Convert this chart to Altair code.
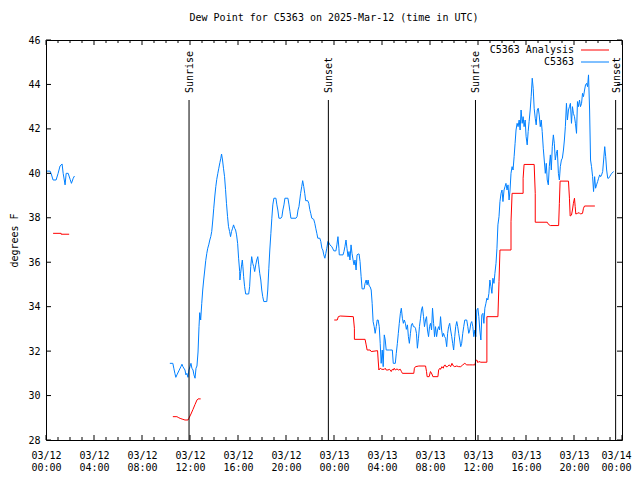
import altair as alt
import pandas as pd

TITLE = "Dew Point for C5363 on 2025-Mar-12 (time in UTC)"
Y_TITLE = "degrees F"
FONT = "DejaVu Sans Mono"
RED = "#ff0000"
BLUE = "#0080ff"

# ---- axis ticks / labels ----
x_tick_hours = [0, 4, 8, 12, 16, 20, 24, 28, 32, 36, 40, 44, 48]
x_tick_dates = ["03/12", "03/12", "03/12", "03/12", "03/12", "03/12",
                "03/13", "03/13", "03/13", "03/13", "03/13", "03/13", "03/14"]
x_tick_times = ["00:00", "04:00", "08:00", "12:00", "16:00", "20:00",
                "00:00", "04:00", "08:00", "12:00", "16:00", "20:00", "00:00"]
x_minor_hours = [h for h in range(0, 49) if h % 4 != 0]
y_ticks = [28, 30, 32, 34, 36, 38, 40, 42, 44, 46]

# ---- sun events (hours since 03/12 00:00 UTC) ----
sun_hours = [11.92, 23.53, 35.79, 47.47]
sun_labels = ["Sunrise", "Sunset", "Sunrise", "Sunset"]

# ---- legend ----
legend_labels = ["C5363 Analysis", "C5363"]
legend_colors = [RED, BLUE]

# ---- observations (C5363), hours since 03/12 00:00 UTC ----
obs1_hours = [0.08, 0.34, 0.42, 0.59, 0.84, 1.01, 1.17, 1.34, 1.43, 1.59, 1.68, 1.85, 2.01, 2.12, 2.27, 2.37]
obs1_values = [40.1, 40.1, 40.0, 39.7, 39.7, 40.0, 40.33, 40.42, 40.0, 39.48, 40.0, 40.0, 39.73, 39.55, 39.78, 39.88]

obs2_hours = [
    10.32, 10.57, 10.65, 10.74, 10.82, 10.91, 11.07, 11.24, 11.33, 11.41, 11.58, 11.66, 11.74, 11.83, 11.91,
    12.00, 12.08, 12.16, 12.25, 12.33, 12.42, 12.50, 12.58, 12.67, 12.75, 12.81, 12.89, 12.98, 13.06, 13.14,
    13.23, 13.31, 13.40, 13.48, 13.56, 13.65, 13.73, 13.81, 13.90, 13.98, 14.07, 14.15, 14.23, 14.32, 14.40,
    14.49, 14.57, 14.63, 14.71, 14.79, 14.88, 14.96, 15.04, 15.13, 15.21, 15.30, 15.38, 15.46, 15.55, 15.63,
    15.72, 15.80, 15.88, 15.97, 16.05, 16.14, 16.16, 16.22, 16.30, 16.36, 16.41, 16.47, 16.55, 16.64, 16.89,
    16.97, 17.06, 17.14, 17.23, 17.31, 17.39, 17.48, 17.56, 17.65, 17.73, 17.81, 17.90, 17.98, 18.06, 18.15,
    18.40, 18.48, 18.57, 18.65, 18.74, 18.82, 18.90, 18.99, 19.16, 19.24, 19.32, 19.41, 19.58, 19.66, 19.74,
    19.83, 19.91, 20.16, 20.25, 20.33, 20.41, 20.83, 20.92, 21.00, 21.08,
    21.22, 21.31, 21.39, 21.48, 21.56, 21.64, 21.81, 21.90, 21.98, 22.06, 22.15, 22.31, 22.40, 22.48, 22.57,
    22.65, 22.82, 22.90, 22.99, 23.07, 23.15, 23.24, 23.32, 23.40, 23.49, 23.57, 23.66, 23.82, 23.91, 23.99,
    24.16, 24.24, 24.33, 24.41, 24.44, 24.75, 24.83, 24.91, 25.00, 25.08, 25.17, 25.25, 25.33, 25.42, 25.50,
    25.59, 25.67, 25.75, 25.84, 25.92, 26.01, 26.09, 26.17, 26.26, 26.34, 26.51, 26.59, 26.68, 26.76, 26.84,
    26.93, 27.01, 27.10, 27.18, 27.26, 27.35, 27.43, 27.52, 27.60, 27.68, 27.77, 27.85, 27.93, 28.02, 28.10,
    28.19, 28.27, 28.35, 28.61, 28.86, 28.94, 29.11, 29.19, 29.28, 29.36, 29.44, 29.53, 29.61, 29.70, 29.78,
    29.86, 29.95, 30.03, 30.12, 30.20, 30.28, 30.37, 30.45, 30.53, 30.62, 30.70, 30.79, 30.87, 30.95, 31.04,
    31.12, 31.21, 31.29, 31.37, 31.46, 31.54, 31.63, 31.71, 31.79, 31.88, 31.96, 32.04, 32.13, 32.21, 32.30,
    32.38, 32.46, 32.55, 32.63, 32.72, 32.80, 32.88, 32.97, 33.05, 33.13, 33.22, 33.30, 33.39, 33.47, 33.55,
    33.64, 33.72, 33.81, 33.89, 33.97, 34.06, 34.14, 34.23, 34.31, 34.39, 34.48, 34.56, 34.64, 34.73, 34.81,
    34.90, 35.06, 35.15, 35.23, 35.32, 35.40, 35.48, 35.57, 35.65, 35.74, 35.82, 35.90, 35.99, 36.07, 36.15,
    36.24,
    36.32, 36.41, 36.49, 36.57, 36.66, 36.74, 36.82, 36.91, 36.99, 37.08, 37.16, 37.24, 37.33, 37.41, 37.50,
    37.58, 37.66, 37.75, 37.83, 37.92, 38.00, 38.08, 38.17, 38.25, 38.33, 38.42, 38.50, 38.59, 38.67, 38.75,
    38.84, 38.92, 39.01, 39.09, 39.17, 39.26, 39.34, 39.43, 39.51, 39.59, 39.68, 39.76, 39.84, 39.93, 40.01,
    40.10, 40.18, 40.26, 40.35, 40.43, 40.52, 40.60, 40.68, 40.77, 40.85, 40.94, 41.02, 41.10, 41.19, 41.27,
    41.35, 41.44, 41.52, 41.61, 41.69, 41.77, 41.86, 41.94, 42.03, 42.11, 42.19, 42.28, 42.36, 42.44, 42.53,
    42.61, 42.70, 42.78, 42.86, 42.95, 43.03, 43.12, 43.20, 43.28, 43.37, 43.45, 43.54, 43.62, 43.70, 43.79,
    43.87, 43.95, 44.04, 44.12, 44.21, 44.29, 44.37, 44.46, 44.54, 44.63, 44.71, 44.79, 44.88, 44.96, 45.05,
    45.13, 45.21, 45.30, 45.38, 45.46, 45.55, 45.63, 45.72, 45.80, 45.88, 45.97, 46.05, 46.14, 46.22, 46.30,
    46.39, 46.47, 46.56, 46.64, 46.72, 46.81, 46.89, 46.97, 47.06, 47.14, 47.31,
]
obs2_values = [
    31.45, 31.45, 31.23, 31.00, 30.82, 30.93, 31.11, 31.30, 31.41, 31.30, 31.15, 30.93, 31.00, 30.82, 31.15,
    31.30, 31.45, 31.23, 31.15, 30.93, 30.78, 31.23, 31.33, 31.96, 33.10, 33.73, 33.40, 34.15, 34.75, 35.20,
    35.65, 36.07, 36.40, 36.63, 36.78, 37.00, 37.15, 37.38, 37.90, 38.43, 38.98, 39.40, 39.73, 40.00, 40.23,
    40.48, 40.68, 40.87, 40.60, 40.23, 39.85, 39.28, 38.65, 38.05, 37.60, 37.38, 37.15, 37.38, 37.53, 37.68,
    37.53, 37.45, 37.23, 36.85, 36.18, 35.58, 35.20, 35.50, 35.88, 36.10, 35.80, 35.35, 34.90, 34.57, 34.57,
    34.90, 35.80, 36.25, 35.95, 35.80, 35.58, 35.88, 36.10, 36.25, 35.88, 35.50, 35.20, 34.75, 34.45, 34.23,
    34.23, 34.75, 35.73, 36.55, 37.30, 37.98, 38.58, 38.88, 38.88, 38.58, 38.35, 37.98, 37.98, 38.05, 38.35,
    38.58, 38.88, 38.88, 38.58, 38.28, 37.98, 37.98, 38.05, 38.35, 38.50,
    39.10, 39.40, 39.67, 39.40, 39.10, 38.77, 38.77, 38.65, 38.38, 38.20, 37.98, 37.93, 37.75, 37.53, 37.30,
    37.08, 37.08, 36.93, 36.63, 36.55, 36.33, 36.18, 36.40, 36.63, 36.93, 36.88, 36.78, 36.70, 36.60, 36.51,
    36.51, 36.78, 37.15, 36.63, 36.33, 36.33, 36.48, 36.70, 37.00, 36.63, 36.25, 36.48, 36.10, 36.78, 36.40,
    36.10, 35.88, 36.10, 35.65, 36.33, 36.37, 36.37, 36.03, 35.35, 34.80, 34.80, 35.05, 35.20, 34.98, 35.20,
    34.93, 34.90, 34.75, 34.15, 33.33, 33.10, 32.80, 33.10, 33.40, 33.40, 33.10, 32.35, 31.45, 32.05, 31.30,
    32.73, 32.50, 32.05, 32.05, 32.05, 31.45, 31.45, 31.90, 32.35, 32.80, 33.25, 33.70, 33.93, 33.48, 33.25,
    33.40, 33.25, 32.98, 33.18, 32.65, 32.35, 32.80, 33.18, 33.25, 33.10, 33.10, 33.03, 32.80, 32.13, 32.58,
    33.10, 33.48, 33.85, 34.00, 33.55, 33.10, 33.40, 33.55, 32.95, 32.65, 33.10, 33.25, 32.95, 33.93, 33.25,
    32.65, 33.10, 32.65, 32.95, 33.10, 32.95, 33.55, 32.95, 32.65, 32.80, 32.65, 32.58, 32.20, 32.80, 33.10,
    33.25, 32.95, 32.65, 32.35, 32.05, 32.65, 33.10, 33.33, 33.10, 32.80, 32.50, 32.20, 32.35, 32.80, 33.10,
    33.40, 33.40, 33.10, 32.80, 32.95, 33.25, 33.33, 33.10, 32.65, 32.95, 32.65, 33.85, 33.93, 33.55, 32.95,
    32.50,
    33.63, 33.70, 33.25, 33.93, 34.15, 34.38, 34.30, 34.60, 35.20, 34.90, 34.60, 35.28, 35.05, 35.50, 35.95,
    36.63, 37.68, 38.05, 38.73, 39.10, 39.25, 38.73, 39.25, 39.40, 39.55, 39.25, 39.48, 38.80, 39.25, 40.00,
    40.30, 40.15, 40.75, 41.35, 41.95, 42.25, 42.10, 42.40, 41.95, 42.85, 42.25, 42.55, 42.10, 42.40, 41.65,
    41.28, 41.88, 42.33, 42.85, 43.45, 44.28, 43.83, 42.93, 42.48, 42.18, 42.85, 42.93, 42.63, 42.10, 42.40,
    41.88, 41.13, 40.60, 40.00, 40.45, 39.70, 39.48, 40.30, 40.83, 40.15, 41.20, 41.73, 41.35, 40.60, 40.90,
    41.05, 40.00, 39.70, 40.30, 40.60, 40.68, 41.05, 41.50, 42.10, 43.15, 42.40, 42.85, 43.00, 43.15, 42.25,
    43.00, 42.70, 42.55, 42.25, 41.80, 43.23, 43.00, 43.30, 43.00, 43.15, 43.60, 43.45, 43.75, 43.98, 44.05,
    43.90, 44.43, 42.85, 40.60, 40.30, 39.85, 39.18, 39.85, 39.33, 39.48, 39.63, 39.78, 39.93, 39.85, 39.93,
    40.08, 40.60, 41.20, 40.75, 40.15, 39.78, 39.78, 39.85, 39.93, 40.00, 40.08,
]

# ---- analysis (C5363 Analysis) ----
ana1_hours = [0.59, 1.26, 1.26, 1.93]
ana1_values = [37.30, 37.30, 37.26, 37.26]

ana2_hours = [10.57, 10.91, 11.07, 11.24, 11.41, 11.58, 11.83, 11.91, 12.08, 12.25, 12.42, 12.58, 12.67, 12.89]
ana2_values = [29.05, 29.05, 29.00, 28.96, 28.93, 28.90, 28.90, 28.98, 29.17, 29.38, 29.60, 29.80, 29.85, 29.85]

ana3_hours = [
    24.02, 24.27, 24.36, 24.52, 25.61, 25.70, 25.70, 26.59, 26.68, 26.76, 27.01, 27.10, 27.63, 27.68, 27.74,
    27.85, 27.99, 28.19, 28.27, 28.35, 28.49, 28.63, 28.77, 28.86, 28.94, 29.02, 29.11, 29.25, 29.36, 29.53,
    29.61, 29.70, 30.65, 30.70, 30.79, 31.07, 31.63, 31.71, 31.76, 31.93, 32.04, 32.16, 32.24, 32.66, 32.72,
    32.83, 32.88, 32.99, 33.11, 33.16, 33.25, 33.33, 33.44, 33.61, 33.72, 33.83, 33.95, 34.06, 34.23, 34.39,
    34.56, 34.73, 34.90, 35.06, 35.26, 35.54, 35.74, 35.82, 35.90, 35.99, 36.07, 36.24, 36.74, 36.74, 37.66,
    37.75, 37.83, 38.75, 38.75, 38.84, 39.76, 39.76, 39.84, 40.68, 40.77, 40.77, 41.77, 41.88, 42.03, 42.72,
    42.78, 42.84, 43.54, 43.62, 43.68, 43.79, 43.87, 43.95, 44.04, 44.10, 44.15, 44.29, 44.43, 44.54, 44.71,
    44.79, 44.88, 45.74,
]
ana3_values = [
    33.40, 33.40, 33.55, 33.58, 33.55, 33.03, 32.53, 32.53, 32.28, 32.05, 32.05, 31.98, 32.02, 31.60, 31.15,
    31.23, 31.18, 31.18, 31.23, 31.15, 31.15, 31.18, 31.08, 31.18, 31.15, 31.23, 31.15, 31.20, 31.15, 31.18,
    31.09, 31.00, 31.00, 31.23, 31.30, 31.33, 31.33, 31.08, 30.85, 30.85, 31.08, 30.97, 30.85, 30.85, 31.15,
    31.23, 31.18, 31.30, 31.23, 31.33, 31.38, 31.30, 31.30, 31.38, 31.30, 31.45, 31.33, 31.30, 31.33, 31.30,
    31.30, 31.38, 31.45, 31.38, 31.38, 31.38, 31.38, 31.57, 31.60, 31.48, 31.53, 31.50, 31.50, 33.55, 33.55,
    35.13, 36.55, 36.55, 37.82, 39.10, 39.10, 39.78, 40.40, 40.40, 39.10, 37.80, 37.80, 37.70, 37.65, 37.65,
    38.65, 39.65, 39.65, 38.88, 38.08, 38.12, 38.35, 38.65, 38.88, 38.50, 38.17, 38.20, 38.23, 38.17, 38.20,
    38.43, 38.53, 38.53,
]


def segments_df(segs):
    rows = []
    for sid, (hs, vs) in enumerate(segs):
        for i, (h, v) in enumerate(zip(hs, vs)):
            rows.append({"hour": h, "value": v, "seg": sid, "idx": i})
    return pd.DataFrame(rows)


obs_df = segments_df([(obs1_hours, obs1_values), (obs2_hours, obs2_values)])
ana_df = segments_df([(ana1_hours, ana1_values), (ana2_hours, ana2_values), (ana3_hours, ana3_values)])

W, H = 576, 400
x_scale = alt.Scale(domain=[0, 48], nice=False, zero=False)
y_scale = alt.Scale(domain=[28, 46], nice=False, zero=False)

label_array = "[" + ",".join(f"['{d}','{t}']" for d, t in zip(x_tick_dates, x_tick_times)) + "]"
last_tick = x_tick_hours[-1]
x_axis = alt.Axis(values=x_tick_hours, labelExpr=label_array + "[round(datum.value/4)]",
                  ticks=False, domain=False, grid=False, title=None,
                  labelFont=FONT, labelFontSize=10, labelColor="black", labelPadding=10,
                  labelLineHeight=12, labelAngle=0, labelBaseline="top",
                  labelOffset={"condition": {"test": f"datum.value == {last_tick}", "value": -6},
                               "value": 0},
                  labelOverlap=False, labelFlush=False)
y_axis = alt.Axis(values=y_ticks, ticks=False, domain=False, grid=False,
                  title=Y_TITLE, titleFont=FONT, titleFontSize=10, titleFontWeight="normal",
                  titleColor="black", titlePadding=8,
                  labelFont=FONT, labelFontSize=10, labelColor="black", labelPadding=6)

X = alt.X("hour:Q", scale=x_scale, axis=x_axis)
Y = alt.Y("value:Q", scale=y_scale, axis=y_axis)

ana_line = alt.Chart(ana_df).mark_line(color=RED, strokeWidth=1, clip=True).encode(
    x=X, y=Y, detail="seg:N", order="idx:Q")
obs_line = alt.Chart(obs_df).mark_line(color=BLUE, strokeWidth=1, clip=True).encode(
    x=X, y=Y, detail="seg:N", order="idx:Q")

# inward ticks (gnuplot style) on all four sides
xmaj_df = pd.DataFrame({"hour": x_tick_hours})
xmin_df = pd.DataFrame({"hour": x_minor_hours})
ymaj_df = pd.DataFrame({"value": y_ticks})


def xticks(df, length):
    bot = alt.Chart(df).mark_rule(color="black", strokeWidth=1).encode(
        x=X, y=alt.value(H), y2=alt.value(H - length))
    top = alt.Chart(df).mark_rule(color="black", strokeWidth=1).encode(
        x=X, y=alt.value(0), y2=alt.value(length))
    return [bot, top]


def yticks(df, length):
    left = alt.Chart(df).mark_rule(color="black", strokeWidth=1).encode(
        y=Y, x=alt.value(0), x2=alt.value(length))
    right = alt.Chart(df).mark_rule(color="black", strokeWidth=1).encode(
        y=Y, x=alt.value(W), x2=alt.value(W - length))
    return [left, right]


tick_layers = xticks(xmaj_df, 5) + xticks(xmin_df, 3) + yticks(ymaj_df, 5)

sun_df = pd.DataFrame({"hour": sun_hours, "label": sun_labels})
sun_rule = alt.Chart(sun_df).mark_rule(color="black", strokeWidth=1).encode(
    x=X, y=alt.value(60), y2=alt.value(H))
sun_text = alt.Chart(sun_df).mark_text(font=FONT, fontSize=10, angle=270, align="left",
                                       baseline="middle", color="black", dy=1).encode(
    x=X, y=alt.value(53), text="label:N")

legend_layers = []
for i, (lab, col) in enumerate(zip(legend_labels, legend_colors)):
    ldf = pd.DataFrame({"label": [lab]})
    legend_layers.append(alt.Chart(ldf).mark_text(font=FONT, fontSize=10, align="right",
                                                  baseline="middle", color="black").encode(
        x=alt.value(528), y=alt.value(10 + 12 * i), text="label:N"))
    legend_layers.append(alt.Chart(ldf).mark_rule(color=col, strokeWidth=1).encode(
        x=alt.value(535), x2=alt.value(563), y=alt.value(10 + 12 * i)))

chart = alt.layer(
    ana_line, obs_line, *tick_layers, sun_rule, sun_text, *legend_layers
).properties(
    width=W, height=H,
    title=alt.Title(TITLE, font=FONT, fontSize=10, fontWeight="normal", color="black",
                    anchor="middle", offset=12),
    autosize=alt.AutoSizeParams(type="none"),
    padding={"left": 38, "top": 32, "right": 10, "bottom": 32},
    background="white",
).configure_view(stroke="black", strokeWidth=1)

chart.save("out.html", embed_options={"renderer": "svg", "actions": False})
